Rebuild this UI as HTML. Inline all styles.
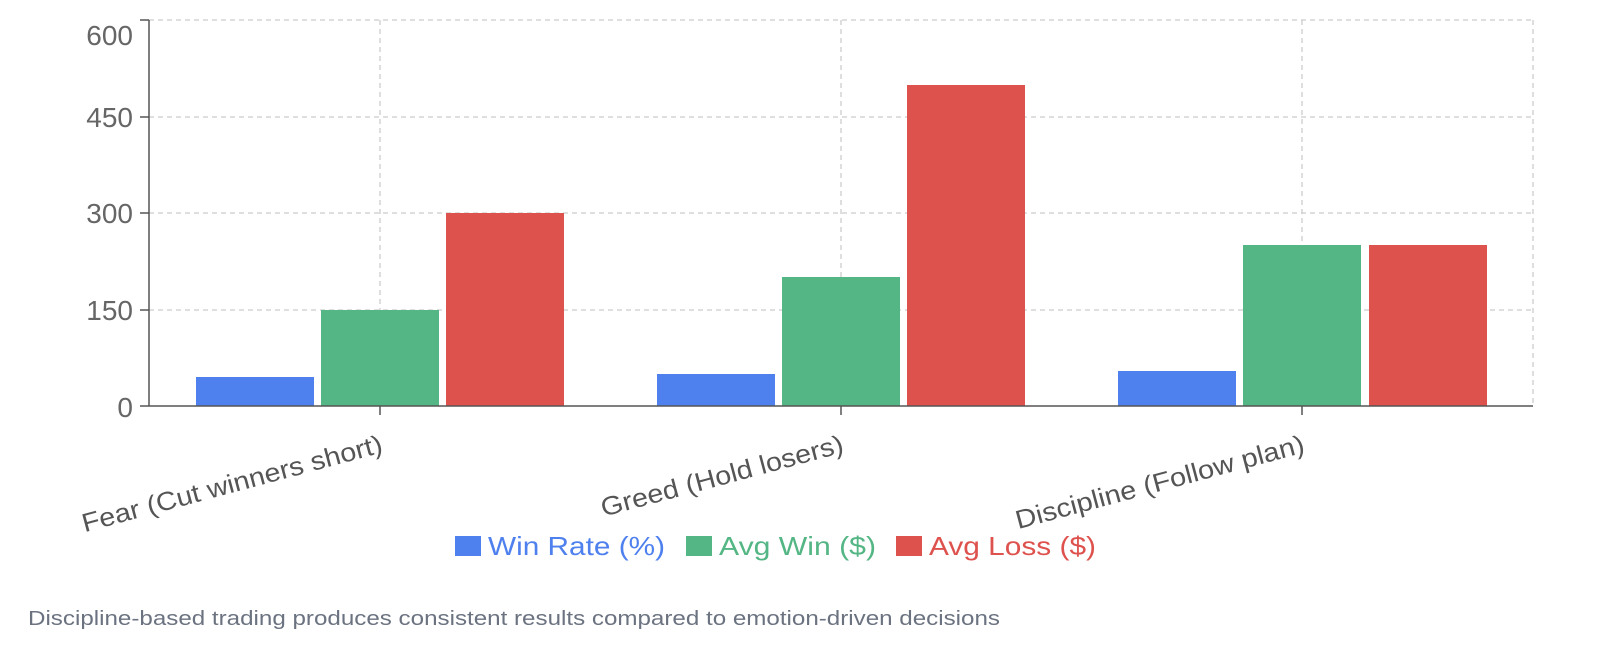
<!DOCTYPE html>
<html><head><style>
body{margin:0;background:#fff;width:1600px;height:667px;overflow:hidden;font-family:"Liberation Sans",sans-serif}
</style></head><body>
<svg width="1600" height="667" xmlns="http://www.w3.org/2000/svg" font-family="Liberation Sans, sans-serif">
<g stroke="#ccc" stroke-dasharray="5,4" stroke-width="1.3" fill="none">
<line x1="149" y1="20" x2="1533" y2="20"/>
<line x1="149" y1="117" x2="1533" y2="117"/>
<line x1="149" y1="213" x2="1533" y2="213"/>
<line x1="149" y1="310" x2="1533" y2="310"/>
<line x1="380" y1="20" x2="380" y2="406"/>
<line x1="841" y1="20" x2="841" y2="406"/>
<line x1="1302" y1="20" x2="1302" y2="406"/>
<line x1="1533" y1="20" x2="1533" y2="406"/>
</g>
<rect x="196" y="377" width="118" height="29" fill="#4e80ee"/>
<rect x="321" y="310" width="118" height="96" fill="#53b684"/>
<rect x="446" y="213" width="118" height="193" fill="#de524e"/>
<rect x="657" y="374" width="118" height="32" fill="#4e80ee"/>
<rect x="782" y="277" width="118" height="129" fill="#53b684"/>
<rect x="907" y="85" width="118" height="321" fill="#de524e"/>
<rect x="1118" y="371" width="118" height="35" fill="#4e80ee"/>
<rect x="1243" y="245" width="118" height="161" fill="#53b684"/>
<rect x="1369" y="245" width="118" height="161" fill="#de524e"/>
<g stroke="#555" stroke-width="1.5">
<line x1="149" y1="20" x2="149" y2="406"/>
<line x1="149" y1="406" x2="1533" y2="406"/>
<line x1="140" y1="20" x2="149" y2="20"/>
<line x1="140" y1="117" x2="149" y2="117"/>
<line x1="140" y1="213" x2="149" y2="213"/>
<line x1="140" y1="310" x2="149" y2="310"/>
<line x1="140" y1="406" x2="149" y2="406"/>
<line x1="380" y1="406" x2="380" y2="415"/>
<line x1="841" y1="406" x2="841" y2="415"/>
<line x1="1302" y1="406" x2="1302" y2="415"/>
</g>
<g fill="#666" font-size="28" text-anchor="end">
<text x="133" y="45">600</text>
<text x="133" y="127">450</text>
<text x="133" y="223">300</text>
<text x="133" y="320">150</text>
<text x="133" y="417">0</text>
</g>
<g fill="#555" font-size="26" text-anchor="end">
<text transform="translate(384,452) rotate(-15)" textLength="310" lengthAdjust="spacingAndGlyphs">Fear (Cut winners short)</text>
<text transform="translate(845,452) rotate(-15)" textLength="250" lengthAdjust="spacingAndGlyphs">Greed (Hold losers)</text>
<text transform="translate(1306,452) rotate(-15)" textLength="298" lengthAdjust="spacingAndGlyphs">Discipline (Follow plan)</text>
</g>
<g font-size="26">
<rect x="455" y="536" width="26" height="20" fill="#4e80ee"/>
<text x="488" y="555" fill="#4e80ee" textLength="177" lengthAdjust="spacingAndGlyphs">Win Rate (%)</text>
<rect x="686" y="536" width="26" height="20" fill="#53b684"/>
<text x="719" y="555" fill="#53b684" textLength="157" lengthAdjust="spacingAndGlyphs">Avg Win ($)</text>
<rect x="896" y="536" width="26" height="20" fill="#de524e"/>
<text x="929" y="555" fill="#de524e" textLength="167" lengthAdjust="spacingAndGlyphs">Avg Loss ($)</text>
</g>
<text x="28" y="625" fill="#6b7280" font-size="20" textLength="972" lengthAdjust="spacingAndGlyphs">Discipline-based trading produces consistent results compared to emotion-driven decisions</text>
</svg>
</body></html>
